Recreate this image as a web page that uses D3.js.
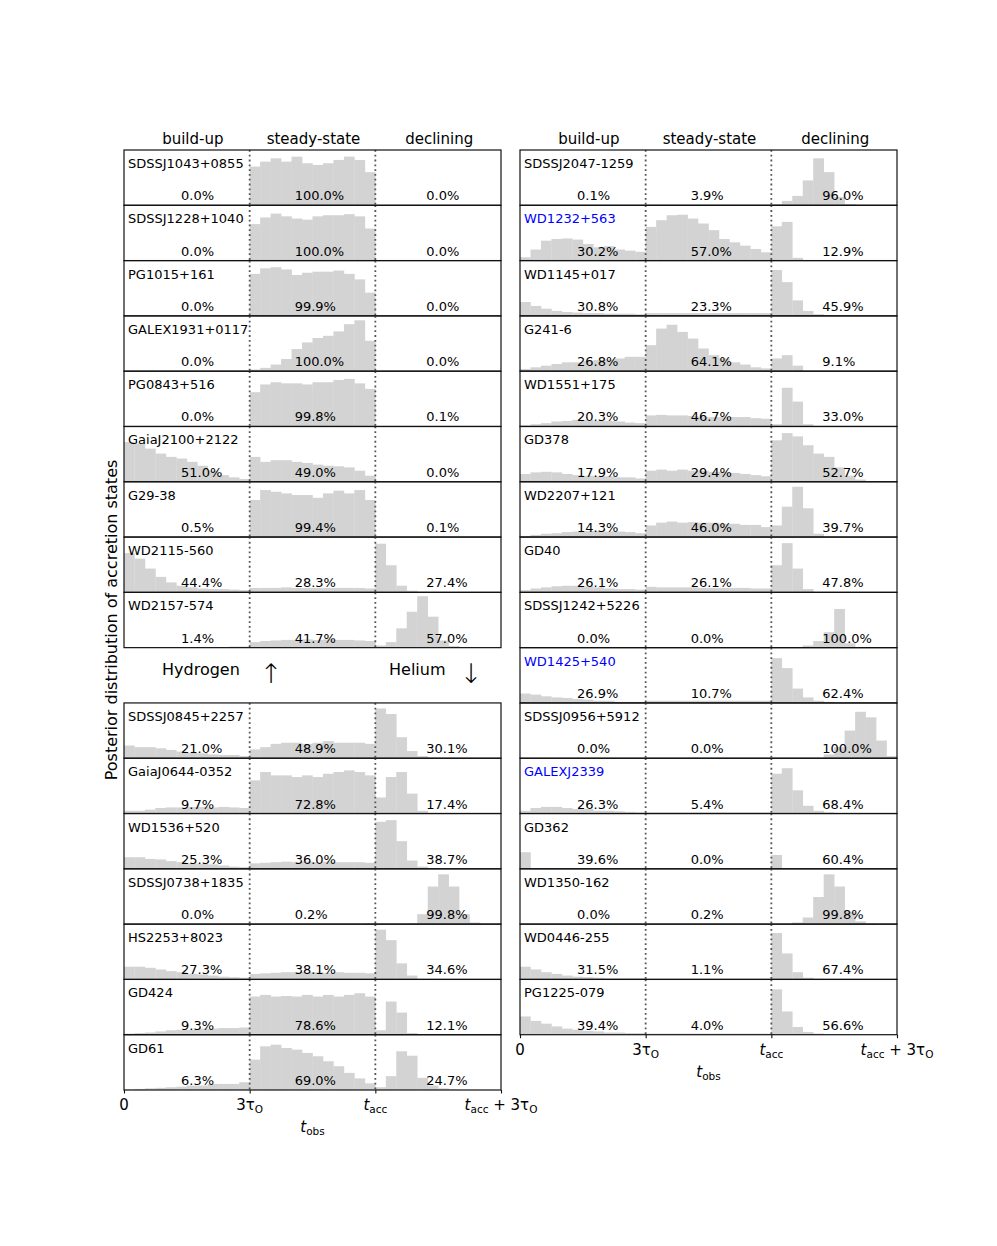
<!DOCTYPE html>
<html>
<head>
<meta charset="utf-8">
<script src="https://cdn.jsdelivr.net/npm/d3@7"></script>
<style>
  body { margin: 0; background: #fff; }
  text { font-family: "DejaVu Sans", sans-serif; fill: #000; }
</style>
</head>
<body>
<script>
// ---- data ----
// each histogram = 36 bins: 12 build-up, 12 steady-state, 12 declining (height in % of panel)
let z12 = [0,0,0,0,0,0,0,0,0,0,0,0];

let hydrogenNames = ["SDSSJ1043+0855", "SDSSJ1228+1040", "PG1015+161", "GALEX1931+0117", "PG0843+516",
  "GaiaJ2100+2122", "G29-38", "WD2115-560", "WD2157-574"];
let hydrogenPcts = [
  ["0.0", "100.0", "0.0"], ["0.0", "100.0", "0.0"], ["0.0", "99.9", "0.0"], ["0.0", "100.0", "0.0"],
  ["0.0", "99.8", "0.1"], ["51.0", "49.0", "0.0"], ["0.5", "99.4", "0.1"], ["44.4", "28.3", "27.4"],
  ["1.4", "41.7", "57.0"]
];
let hydrogenHists = [
  [...z12, 70,79,85,79,88,76,73,76,82,88,82,60, ...z12],
  [...z12, 66,78,85,80,76,74,80,82,82,84,80,58, ...z12],
  [...z12, 76,86,88,84,74,78,80,80,82,76,66,42, ...z12],
  [...z12, 3,6,12,22,40,52,60,64,72,85,92,55, ...z12],
  [...z12, 62,76,80,78,78,76,80,80,84,86,78,68, ...z12],
  [72,69,60,51,45,42,36,29,20,12,8,5, 45,36,39,39,36,34,31,29,28,26,20,11, ...z12],
  [0,0,0,0,0,0,0,0,0,1,1,2, 67,85,82,79,76,76,71,79,84,79,85,67, ...z12],
  [71,61,43,28,18,12,9,7,6,6,5,4, 8,8,8,9,8,8,8,8,8,8,8,7, 88,49,12,3,1,0,0,0,0,0,0,0],
  [1,1,1,1,1,1,1,1,1,1,2,2, 10,12,13,14,14,15,14,15,14,14,13,12, 4,10,35,65,93,56,13,3,0,0,0,0]
];

let heliumLeftNames = ["SDSSJ0845+2257", "GaiaJ0644-0352", "WD1536+520", "SDSSJ0738+1835", "HS2253+8023", "GD424", "GD61"];
let heliumLeftPcts = [
  ["21.0", "48.9", "30.1"], ["9.7", "72.8", "17.4"], ["25.3", "36.0", "38.7"], ["0.0", "0.2", "99.8"],
  ["27.3", "38.1", "34.6"], ["9.3", "78.6", "12.1"], ["6.3", "69.0", "24.7"]
];
let heliumLeftHists = [
  [23,20,20,18,15,12,10,9,7,6,6,4, 16,20,26,28,28,26,28,31,28,28,28,26, 90,80,38,13,4,1,0,0,0,0,0,0],
  [5,5,7,10,11,11,12,12,11,12,11,10, 60,75,69,69,66,69,66,72,75,78,75,69, 29,66,75,36,5,0,0,0,0,0,0,0],
  [21,21,18,17,14,12,10,9,8,6,4,3, 10,11,12,13,12,13,12,13,12,12,12,11, 85,88,50,15,4,1,0,0,0,0,0,0],
  [...z12, 0,0,0,0,0,0,0,0,0,0,0,1, 0,0,0,1,18,68,90,68,18,3,0,0],
  [23,23,21,18,15,13,10,9,7,5,4,3, 10,11,12,13,13,13,13,12,13,12,12,11, 90,71,29,7,1,0,0,0,0,0,0,0],
  [2,3,4,6,8,9,9,11,11,12,12,13, 69,72,69,70,69,72,69,72,69,72,75,69, 8,60,40,3,0,0,0,0,0,0,0,0],
  [1,2,3,4,5,6,8,8,11,11,11,14, 55,79,82,76,73,67,61,52,43,31,21,12, 5,25,70,62,22,8,3,1,0,0,0,0]
];

let heliumRightNames = ["SDSSJ2047-1259", "WD1232+563", "WD1145+017", "G241-6", "WD1551+175", "GD378", "WD2207+121",
  "GD40", "SDSSJ1242+5226", "WD1425+540", "SDSSJ0956+5912", "GALEXJ2339", "GD362", "WD1350-162", "WD0446-255", "PG1225-079"];
let blueNames = ["WD1232+563", "WD1425+540", "GALEXJ2339"];
let heliumRightPcts = [
  ["0.1", "3.9", "96.0"], ["30.2", "57.0", "12.9"], ["30.8", "23.3", "45.9"], ["26.8", "64.1", "9.1"],
  ["20.3", "46.7", "33.0"], ["17.9", "29.4", "52.7"], ["14.3", "46.0", "39.7"], ["26.1", "26.1", "47.8"],
  ["0.0", "0.0", "100.0"], ["26.9", "10.7", "62.4"], ["0.0", "0.0", "100.0"], ["26.3", "5.4", "68.4"],
  ["39.6", "0.0", "60.4"], ["0.0", "0.2", "99.8"], ["31.5", "1.1", "67.4"], ["39.4", "4.0", "56.6"]
];
let heliumRightHists = [
  [...z12, 1,1,1,1,1,1,1,1,1,1,1,1, 2,8,17,45,85,60,15,2,0,0,0,0],
  [6,20,36,39,40,38,30,24,26,20,18,16, 61,73,82,83,76,67,55,39,33,27,21,15, 62,70,5,0,0,0,0,0,0,0,0,0],
  [25,18,13,9,7,6,5,5,4,4,4,3, 5,5,5,5,5,5,5,5,5,5,5,5, 83,61,28,9,3,1,0,0,0,0,0,0],
  [4,7,10,13,16,16,18,20,21,23,26,26, 47,77,84,71,59,41,29,23,16,12,7,5, 23,29,10,0,0,0,0,0,0,0,0,0],
  [2,4,6,9,10,12,12,10,10,9,7,6, 20,21,20,20,19,17,17,17,17,17,15,14, 4,70,45,4,0,0,0,0,0,0,0,0],
  [14,17,18,17,14,12,11,10,10,8,8,6, 20,22,20,22,20,20,18,18,16,14,12,10, 75,88,82,66,51,45,26,11,4,1,0,0],
  [2,4,6,7,9,10,11,11,10,10,9,7, 21,26,28,26,27,26,26,24,24,22,22,18, 21,55,91,52,6,0,0,0,0,0,0,0],
  [4,7,9,11,12,12,11,9,7,6,6,5, 10,9,9,9,9,8,8,8,8,8,7,7, 49,89,43,6,0,0,0,0,0,0,0,0],
  [...z12, ...z12, 0,0,0,4,12,28,70,8,1,0,0,0],
  [17,15,12,10,9,7,6,4,4,2,2,2, 4,4,4,4,4,4,4,4,4,4,4,4, 81,63,26,10,4,2,0,0,0,0,0,0],
  [...z12, ...z12, 0,0,0,0,0,7,20,50,84,74,32,4],
  [5,10,12,12,10,8,8,5,5,4,3,2, 2,2,2,2,2,2,2,2,2,2,2,2, 72,82,42,14,5,2,0,0,0,0,0,0],
  [30,0,0,0,0,0,0,0,0,0,0,0, ...z12, 25,0,0,0,0,0,0,0,0,0,0,0],
  [...z12, ...z12, 0,0,3,12,49,90,68,22,5,1,0,0],
  [23,18,13,10,7,5,4,3,2,2,2,2, 1,1,1,1,1,1,1,1,1,1,1,1, 84,47,13,3,1,0,0,0,0,0,0,0],
  [33,25,20,15,11,9,7,6,4,4,3,3, 2,2,2,2,2,2,2,2,2,2,2,2, 82,42,14,5,2,0,0,0,0,0,0,0]
];

let stateLabels = ["build-up", "steady-state", "declining"];
// tick labels: [text, subscript] pieces, italic flag
let tickLabels = [
  [{t: "0"}],
  [{t: "3τ"}, {t: "O", sub: true}],
  [{t: "t", it: true}, {t: "acc", sub: true}],
  [{t: "t", it: true}, {t: "acc", sub: true}, {t: " + 3τ"}, {t: "O", sub: true}]
];

// ---- layout ----
let width = 997, height = 1246;
let top0 = 150, rowH = (1090 - 150) / 17;
let nBins = 36;
let columns = [{x0: 124, x1: 501}, {x0: 520, x1: 897}];
let pctOffsets = [57, 45, 51];

let svg = d3.select("body").append("svg")
  .attr("width", width).attr("height", height)
  .attr("viewBox", `0 0 ${width} ${height}`);
svg.append("rect").attr("width", width).attr("height", height).attr("fill", "#fff");

let addRich = (textSel, parts, size, subSize) => {
  let shifted = false;
  parts.forEach(p => {
    let ts = textSel.append("tspan").text(p.t);
    if (p.sub) {
      ts.attr("font-size", subSize).attr("dy", size * 0.22);
      shifted = true;
    } else {
      ts.attr("font-size", size);
      if (shifted) { ts.attr("dy", -size * 0.22); shifted = false; }
    }
    if (p.it) ts.attr("font-style", "italic");
  });
};

let drawPanel = (col, row, name, pcts, hist) => {
  let y0 = top0 + row * rowH, y1 = y0 + rowH;
  let x = d3.scaleLinear().domain([0, nBins]).range([col.x0, col.x1]);
  let y = d3.scaleLinear().domain([0, 100]).range([y1, y0]);
  let g = svg.append("g");

  g.selectAll(".bar").data(hist).enter().append("rect")
    .attr("class", "bar")
    .attr("x", (d, i) => x(i))
    .attr("width", x(1) - x(0) + 0.3)
    .attr("y", d => y(d))
    .attr("height", d => y1 - y(d))
    .attr("fill", "#d3d3d3");

  [12, 24].forEach(b => {
    g.append("line")
      .attr("x1", x(b)).attr("x2", x(b))
      .attr("y1", y0).attr("y2", y1)
      .attr("stroke", "#555").attr("stroke-width", 1.8)
      .attr("stroke-dasharray", "1.8,3");
  });

  g.append("text")
    .attr("x", col.x0 + 4).attr("y", y0 + 18)
    .attr("font-size", 13)
    .style("fill", blueNames.includes(name) ? "#0000ff" : "#000")
    .text(name);

  pcts.forEach((p, k) => {
    g.append("text")
      .attr("x", x(k * 12) + pctOffsets[k]).attr("y", y1 - 5)
      .attr("font-size", 13)
      .text(p + "%");
  });

  g.append("rect")
    .attr("x", col.x0).attr("y", y0)
    .attr("width", col.x1 - col.x0).attr("height", rowH)
    .attr("fill", "none").attr("stroke", "#111").attr("stroke-width", 1.2);
};

let drawAxis = (col, axisY) => {
  let x = d3.scaleLinear().domain([0, nBins]).range([col.x0, col.x1]);
  let g = svg.append("g").attr("transform", `translate(0,${axisY})`);
  g.call(d3.axisBottom(x).tickValues([0, 12, 24, 36]).tickSize(3.5).tickFormat(() => ""));
  g.select(".domain").remove();
  g.selectAll(".tick line").attr("stroke", "#111").attr("stroke-width", 1.1);
  [0, 12, 24, 36].forEach((v, i) => {
    let t = g.append("text").attr("x", x(v)).attr("y", 20).attr("text-anchor", "middle");
    addRich(t, tickLabels[i], 15, 10.5);
  });
  let lab = g.append("text").attr("x", x(18)).attr("y", 42).attr("text-anchor", "middle");
  addRich(lab, [{t: "t", it: true}, {t: "obs", sub: true}], 15, 10.5);
};

// headers
columns.forEach(col => {
  let x = d3.scaleLinear().domain([0, nBins]).range([col.x0, col.x1]);
  stateLabels.forEach((s, k) => {
    svg.append("text")
      .attr("x", x(k * 12 + 6) + (k === 0 ? 6 : 1)).attr("y", 144)
      .attr("text-anchor", "middle").attr("font-size", 15)
      .text(s);
  });
});

hydrogenNames.forEach((n, i) => drawPanel(columns[0], i, n, hydrogenPcts[i], hydrogenHists[i]));
heliumLeftNames.forEach((n, i) => drawPanel(columns[0], i + 10, n, heliumLeftPcts[i], heliumLeftHists[i]));
heliumRightNames.forEach((n, i) => drawPanel(columns[1], i, n, heliumRightPcts[i], heliumRightHists[i]));

drawAxis(columns[0], top0 + 17 * rowH);
drawAxis(columns[1], top0 + 16 * rowH);

// gap row labels
let gapY = top0 + 9 * rowH + rowH / 2;
svg.append("text").attr("x", 162).attr("y", gapY).attr("font-size", 16).text("Hydrogen");
svg.append("text").attr("x", 271).attr("y", gapY + 8).attr("text-anchor", "middle").attr("font-size", 27).attr("font-weight", 300).text("↑");
svg.append("text").attr("x", 389).attr("y", gapY).attr("font-size", 16).text("Helium");
svg.append("text").attr("x", 471).attr("y", gapY + 8).attr("text-anchor", "middle").attr("font-size", 27).attr("font-weight", 300).text("↓");

// y label
svg.append("text")
  .attr("transform", `translate(117,${(top0 + 1090) / 2}) rotate(-90)`)
  .attr("text-anchor", "middle").attr("font-size", 16)
  .text("Posterior distribution of accretion states");
</script>
</body>
</html>
